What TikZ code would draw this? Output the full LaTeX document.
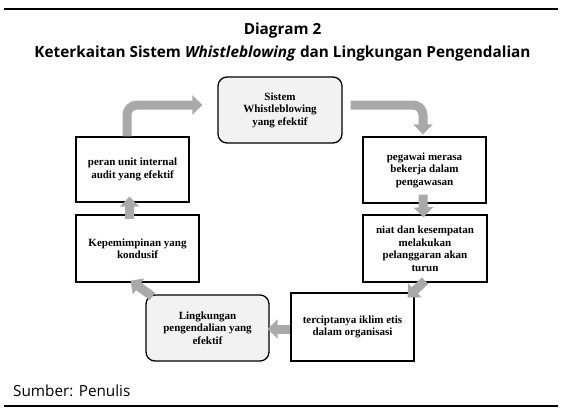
\documentclass[tikz,border=0pt]{standalone}
\usepackage{fontspec}
\setmainfont{Liberation Serif}
\newfontfamily\titlefont{Open Sans}
\usetikzlibrary{arrows.meta}
\definecolor{arrgray}{HTML}{A9A9A9}
\definecolor{boxgray}{HTML}{F2F2F2}
\tikzset{
  box/.style={draw=black, line width=1.3pt, fill=white, inner sep=0pt, align=center,
    font=\bfseries\fontsize{11}{12.5}\selectfont},
  rbox/.style={box, rounded corners=9pt, fill=boxgray},
  arr/.style={draw=arrgray, line width=9pt, rounded corners=10pt,
    -{Triangle[width=19pt,length=10pt]}},
  rule/.style={line width=1.2pt},
  ttl/.style={font=\titlefont\bfseries\fontsize{15.3}{17}\selectfont, anchor=base, inner sep=0pt}
}
\begin{document}
\begin{tikzpicture}[x=1pt,y=-1pt]
\useasboundingbox (0,0) rectangle (583,413);
\coordinate (tl) at (4,9); \coordinate (tr) at (558,9);
\coordinate (bl) at (4,406); \coordinate (br) at (558,406);
\draw[rule] (tl) -- (tr);
\draw[rule] (bl) -- (br);
\node[ttl] (t1) at (282.5,34) {Diagram 2};
\node[ttl] (t2) at (282.5,57) {Keterkaitan Sistem \textit{Whistleblowing} dan Lingkungan Pengendalian};
\node[font=\titlefont\fontsize{15.3}{17}\selectfont, anchor=base west, inner sep=0pt] (src) at (13,396) {Sumber: Penulis};

\node[rbox, minimum width=124pt, minimum height=66pt] (sistem) at (280,110) {Sistem\\Whistleblowing\\yang efektif};
\node[box, minimum width=113pt, minimum height=65pt] (peran) at (132.5,169.5) {peran unit internal\\audit yang efektif};
\node[box, minimum width=123pt, minimum height=66pt] (pegawai) at (424.5,170) {pegawai merasa\\bekerja dalam\\pengawasan};
\node[box, minimum width=124pt, minimum height=67pt] (niat) at (425,248.5) {niat dan kesempatan\\melakukan\\pelanggaran akan\\turun};
\node[box, minimum width=123pt, minimum height=68pt] (tercipta) at (352.5,327) {terciptanya iklim etis\\dalam organisasi};
\node[rbox, minimum width=123pt, minimum height=66pt] (ling) at (207.5,328) {Lingkungan\\pengendalian yang\\efektif};
\node[box, minimum width=123pt, minimum height=67pt] (kepem) at (137.5,248.5) {Kepemimpinan yang\\kondusif};

\draw[arr] ([xshift=-5.5pt]peran.north) |- ([xshift=-15pt,yshift=5pt]sistem.west);
\draw[arr] ([xshift=8pt,yshift=5pt]sistem.east) -| ([xshift=-1.5pt,yshift=2pt]pegawai.north);
\draw[arr] ([xshift=-1.5pt,yshift=9pt]pegawai.south) -- ([xshift=-1.5pt,yshift=-3pt]niat.north);
\draw[arr] ([yshift=2pt]niat.south) -- ([xshift=-7pt,yshift=-5pt]tercipta.north east);
\draw[arr] ([yshift=-2pt]tercipta.west) -- ([xshift=-2pt,yshift=-1pt]ling.east);
\draw[arr] ([xshift=7pt,yshift=-2pt]ling.north west) -- ([xshift=-7pt,yshift=2pt]kepem.south);
\draw[arr] ([xshift=-8pt,yshift=-5pt]kepem.north) -- ([xshift=-3pt,yshift=6pt]peran.south);
\end{tikzpicture}
\end{document}
